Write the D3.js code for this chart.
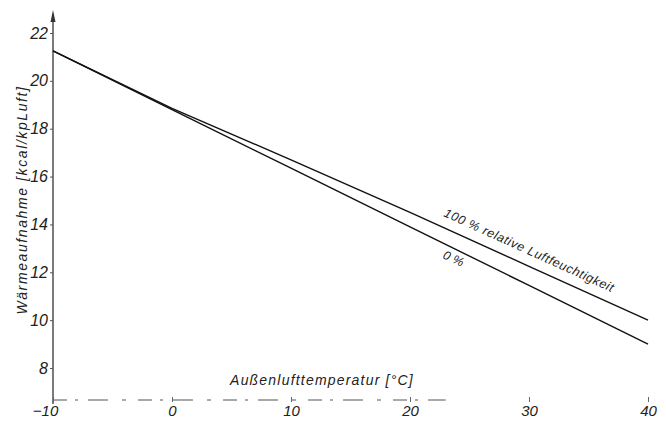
<!DOCTYPE html>
<html>
<head>
<meta charset="utf-8">
<script src="https://cdn.jsdelivr.net/npm/d3@7"></script>
<style>
body{margin:0;background:#fff;}
text{font-family:"Liberation Sans",Arial,sans-serif;font-style:italic;fill:#222;}
</style>
</head>
<body>
<script>
var w=666,h=423;
// Außenlufttemperatur in °C
var temps=[-10,0,10,20,30,40];
// Wärmeaufnahme bei 0 % und 100 % relativer Luftfeuchtigkeit
var dry=[21.25,18.8,16.35,13.9,11.45,9.0];
var humid=[21.25,18.85,16.7,14.5,12.25,10.0];
var xTicks=[-10,0,10,20,30,40];
var yTicks=[8,10,12,14,16,18,20,22];

var svg=d3.select('body').append('svg').attr('width',w).attr('height',h);

var x=d3.scaleLinear().domain([-10,40]).range([53,648]);
var y=d3.scaleLinear().domain([8,22]).range([368,33]);
var axisY=400;

// y axis with arrow
svg.append('line').attr('x1',x(-10)).attr('x2',x(-10)).attr('y1',14).attr('y2',axisY+4)
  .attr('stroke','#333').attr('stroke-width',1.3);
svg.append('path').attr('d','M'+(x(-10)-2.5)+',22 L'+x(-10)+',10 L'+(x(-10)+2.5)+',22 Z').attr('fill','#333');

var gy=svg.append('g').attr('transform','translate('+x(-10)+',0)')
  .call(d3.axisLeft(y).tickValues(yTicks).tickSize(3).tickPadding(2).tickFormat(d3.format('d')));
gy.select('.domain').remove();
gy.selectAll('line').attr('stroke','#555');
gy.selectAll('text').style('font-size','16px').style('font-family','"Liberation Sans",Arial,sans-serif').style('font-style','italic').attr('fill','#222');

// x axis: broken dashed line as in the scan
svg.append('line').attr('x1',x(-10)).attr('x2',x(23)).attr('y1',axisY).attr('y2',axisY)
  .attr('stroke','#555').attr('stroke-width',1).attr('stroke-dasharray','14,8,3,10,20,14,4,12');

var gx=svg.append('g').attr('transform','translate(0,'+(axisY-3)+')')
  .call(d3.axisBottom(x).tickValues(xTicks).tickSize(5).tickPadding(3).tickFormat(d3.format('d')));
gx.select('.domain').remove();
gx.selectAll('line').attr('stroke','#666');
gx.selectAll('text').style('font-size','15px').style('font-family','"Liberation Sans",Arial,sans-serif').style('font-style','italic').attr('fill','#222')
  .attr('dx',function(d){return d===-10?-8:0;});

// curves
var line=d3.line().x(function(d){return x(d[0]);}).y(function(d){return y(d[1]);});
[dry,humid].forEach(function(s){
  svg.append('path').datum(d3.zip(temps,s)).attr('d',line)
    .attr('fill','none').attr('stroke','#111').attr('stroke-width',1.4);
});

// labels along the lines
var ang=Math.atan2(y(humid[5])-y(humid[0]),x(40)-x(-10))*180/Math.PI;
svg.append('text').attr('transform','translate(443,216) rotate('+ang+')')
  .style('font-size','12.5px').style('letter-spacing','0.6px').text('100 % relative Luftfeuchtigkeit');
svg.append('text').attr('transform','translate(442,258) rotate('+ang+')')
  .style('font-size','12.5px').text('0 %');

// axis titles
svg.append('text').attr('transform','translate(27,200) rotate(-90)').attr('text-anchor','middle')
  .style('font-size','14px').style('letter-spacing','1.6px').attr('fill','#444').text('Wärmeaufnahme   [kcal/kpLuft]');
svg.append('text').attr('x',322).attr('y',385).attr('text-anchor','middle')
  .style('font-size','14px').style('letter-spacing','1.2px').text('Außenlufttemperatur  [°C]');
</script>
</body>
</html>
